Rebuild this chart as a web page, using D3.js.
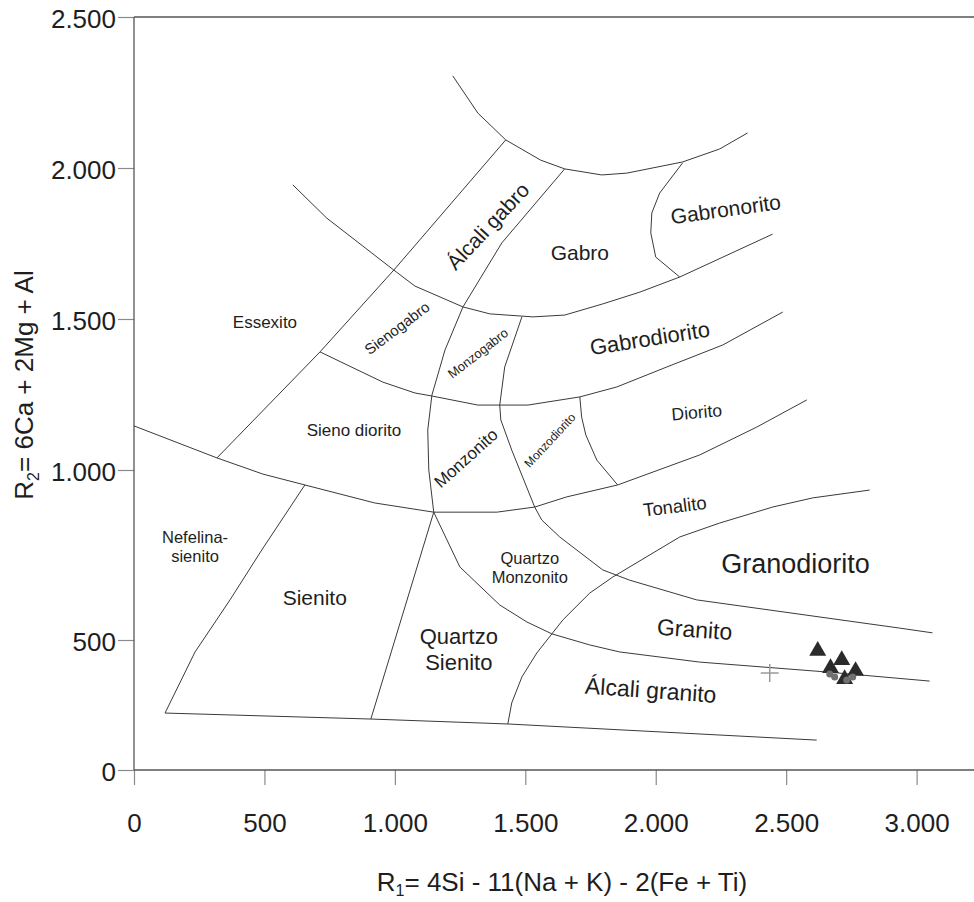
<!DOCTYPE html>
<html><head><meta charset="utf-8">
<script src="https://cdn.jsdelivr.net/npm/d3@7/dist/d3.min.js"></script>
<style>
body{margin:0;background:#fff}
svg{display:block}
text{font-family:"Liberation Sans",Arial,Helvetica,sans-serif;fill:#1e1e1e}
</style>
</head><body>
<svg id="chart" width="974" height="902"></svg>
<script>
// ---------- tick labels / axis extents ----------
const xTicks = [0, 500, 1000, 1500, 2000, 2500, 3000];
const yTicks = [0, 500, 1000, 1500, 2000, 2500];
const xAxisMax = 3220;

// ---------- field boundaries (R1, R2) ----------
const topArc = [[1222,2305],[1318,2182],[1425,2093],[1559,2026],[1651,1997],[1793,1977],[1889,1983],[2103,2020],[2245,2063],[2352,2116]];
const alkaliGabbroLeft = [[1425,2093],[996,1662],[713,1391],[318,1040]];
const monzoLine = [[1651,1997],[1410,1752],[1261,1540],[1192,1397],[1142,1248],[1126,1132],[1130,1000],[1149,876],[908,196]];
const gabbroBase = [[609,1944],[739,1834],[996,1662],[1077,1609],[1261,1540],[1364,1517],[1529,1507],[1651,1513],[1797,1550],[1939,1589],[2092,1639],[2448,1781]];
const gabbronoriteLeft = [[2103,2017],[2015,1917],[1985,1851],[1981,1785],[2000,1705],[2092,1639]];
const quartzMonzLine = [[1487,1507],[1421,1341],[1402,1215],[1406,1166],[1448,1066],[1536,891],[1563,853],[1632,803],[1797,706],[1900,676],[2157,618],[2935,535],[3061,521]];
const dioriteTop = [[713,1391],[954,1291],[1077,1255],[1142,1245],[1318,1215],[1510,1215],[1709,1242],[1851,1275],[2042,1341],[2257,1414],[2487,1523]];
const dioriteLeft = [[1709,1242],[1716,1175],[1732,1116],[1774,1033],[1854,956]];
const silicaLine = [[0,1146],[318,1040],[494,988],[655,956],[923,903],[1149,876],[1391,876],[1536,891],[1659,921],[1854,956],[2169,1050],[2387,1142],[2579,1232]];
const nephelineLine = [[655,956],[490,765],[368,618],[234,454],[119,219]];
const baseLine = [[119,219],[908,196],[1433,177],[2617,115]];
const alkaliGraniteLeft = [[1433,177],[1448,258],[1487,358],[1544,450],[1644,559],[1747,638],[1835,685],[2092,803],[2245,844],[2448,891],[2602,918],[2820,941]];
const graniteBase = [[1149,876],[1249,715],[1402,603],[1506,553],[1602,518],[1747,481],[1862,454],[2169,415],[2655,377],[3050,342]];

const boundaries = [topArc, alkaliGabbroLeft, monzoLine, gabbroBase, gabbronoriteLeft, quartzMonzLine,
  dioriteTop, dioriteLeft, silicaLine, nephelineLine, baseLine, alkaliGraniteLeft, graniteBase];

// ---------- samples (R1, R2) ----------
const triangleR1 = [2621, 2713, 2670, 2766, 2724];
const triangleR2 = [458, 423, 392, 381, 350];
const circleR1 = [2667, 2686, 2732, 2755];
const circleR2 = [369, 358, 346, 358];
const crossR1 = [2437];
const crossR2 = [373];

// ---------- field names ----------
const fieldNames = ["Essexito","Sienogabro","Álcali gabro","Gabro","Gabronorito","Monzogabro","Gabrodiorito",
  "Sieno diorito","Monzonito","Monzodiorito","Diorito","Tonalito","Granodiorito","Nefelina-\nsienito",
  "Quartzo\nMonzonito","Sienito","Quartzo\nSienito","Granito","Álcali granito"];
const fieldR1 = [502,1008,1356,1709,2268,1318,1977,843,1272,1594,2157,2073,2536,234,1517,693,1245,2149,1981];
const fieldR2 = [1490,1470,1808,1722,1864,1387,1437,1132,1040,1099,1192,894,726,776,712,626,465,532,308];

// styles (font size, rotation) per field label
const fieldStyle = {
  "Essexito":[17,0], "Sienogabro":[15,-37], "Álcali gabro":[21,-47], "Gabro":[21,0],
  "Gabronorito":[21,-8], "Monzogabro":[13,-38], "Gabrodiorito":[22,-9], "Sieno diorito":[17,0],
  "Monzonito":[17,-42], "Monzodiorito":[12,-47], "Diorito":[17.5,-5], "Tonalito":[18.5,-7],
  "Granodiorito":[27,0], "Nefelina-\nsienito":[16.5,0], "Quartzo\nMonzonito":[16.5,0],
  "Sienito":[21,0], "Quartzo\nSienito":[22,0], "Granito":[23,4], "Álcali granito":[23,4]
};

// ---------- layout ----------
const W = 974, H = 902;
const plotLeft = 134, plotRight = 974, plotTop = 17, plotBottom = 770;

const x = d3.scaleLinear().domain([0, xAxisMax]).range([plotLeft, plotRight]);
const y = d3.scaleLinear().domain([0, 500, 1000, 2500]).range([plotBottom, 640, 470, plotTop]);

const loc = d3.formatLocale({decimal:",", thousands:".", grouping:[3], currency:["",""]});
const fmt = loc.format(",");

const svg = d3.select("#chart");
svg.append("rect").attr("width", W).attr("height", H).attr("fill", "#fff");

// axes
const xAxis = svg.append("g").attr("transform", `translate(0,${y(0)})`)
  .call(d3.axisBottom(x).tickValues(xTicks).tickSize(15).tickPadding(29).tickFormat(fmt));
const yAxis = svg.append("g").attr("transform", `translate(${x(0)},0)`)
  .call(d3.axisLeft(y).tickValues(yTicks).tickSize(16).tickPadding(2).tickFormat(fmt));
[xAxis, yAxis].forEach(g => {
  g.select(".domain").remove();
  g.selectAll(".tick line").attr("stroke", "#8a8a8a").attr("stroke-width", 1.2);
  g.selectAll(".tick text").attr("font-size", 26).attr("fill", "#111")
    .style("font-family", '"Liberation Sans", Arial, sans-serif');
});
yAxis.selectAll(".tick text").attr("dy", "0.42em");

// frame lines
const frame = svg.append("g").attr("stroke", "#555").attr("stroke-width", 1.3).attr("fill", "none");
frame.append("line").attr("x1", x(0)).attr("x2", x(0)).attr("y1", y(2500)).attr("y2", y(0));
frame.append("line").attr("x1", x(0)).attr("x2", x(xAxisMax)).attr("y1", y(0)).attr("y2", y(0));
frame.append("line").attr("x1", x(0)).attr("x2", x(xAxisMax)).attr("y1", y(2500)).attr("y2", y(2500));

// axis titles
const xt = svg.append("text").attr("x", 562).attr("y", 891).attr("text-anchor", "middle").attr("font-size", 26);
xt.append("tspan").text("R");
xt.append("tspan").text("1").attr("font-size", 16).attr("dy", 5);
xt.append("tspan").text("= 4Si - 11(Na + K) - 2(Fe + Ti)").attr("dy", -5);

const yt = svg.append("text").attr("transform", "translate(33,385) rotate(-90)").attr("text-anchor", "middle").attr("font-size", 26);
yt.append("tspan").text("R");
yt.append("tspan").text("2").attr("font-size", 16).attr("dy", 6);
yt.append("tspan").text("= 6Ca + 2Mg + Al").attr("dy", -6);

// boundaries
const line = d3.line().x(d => x(d[0])).y(d => y(d[1]));
svg.append("g").attr("fill", "none").attr("stroke", "#3a3a3a").attr("stroke-width", 1)
  .selectAll("path").data(boundaries).join("path").attr("d", line);

// field labels
const lg = svg.append("g");
fieldNames.forEach((name, i) => {
  const [fs, ang] = fieldStyle[name];
  const lines = name.split("\n");
  const lh = fs * 1.15;
  const t = lg.append("text")
    .attr("transform", `translate(${x(fieldR1[i])},${y(fieldR2[i])}) rotate(${ang})`)
    .attr("text-anchor", "middle").attr("font-size", fs);
  lines.forEach((s, j) => {
    t.append("tspan").attr("x", 0)
      .attr("dy", j === 0 ? (-(lines.length - 1) / 2 * lh + fs * 0.36) : lh)
      .text(s);
  });
});

// samples
const tri = d3.symbol().type(d3.symbolTriangle).size(125);
svg.append("g").selectAll("path").data(triangleR1).join("path")
  .attr("d", tri).attr("fill", "#2b2b2b")
  .attr("transform", (d, i) => `translate(${x(d)},${y(triangleR2[i])})`);
svg.append("g").selectAll("circle").data(circleR1).join("circle")
  .attr("cx", d => x(d)).attr("cy", (d, i) => y(circleR2[i])).attr("r", 3.5).attr("fill", "#707070");
const cg = svg.append("g").attr("stroke", "#9a9a9a").attr("stroke-width", 1.5);
crossR1.forEach((d, i) => {
  const cx = x(d), cy = y(crossR2[i]);
  cg.append("line").attr("x1", cx - 9).attr("x2", cx + 9).attr("y1", cy).attr("y2", cy);
  cg.append("line").attr("x1", cx).attr("x2", cx).attr("y1", cy - 9).attr("y2", cy + 9);
});
</script>
</body></html>
